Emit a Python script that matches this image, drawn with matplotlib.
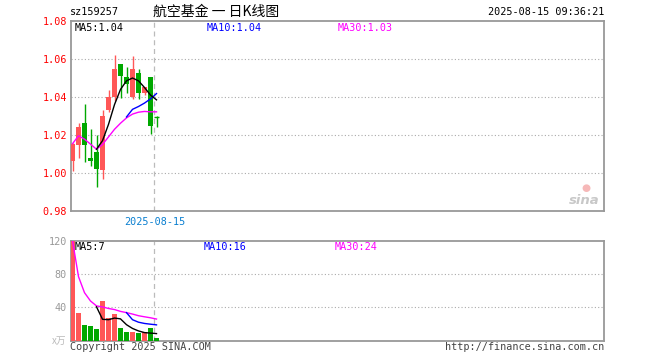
import numpy as np
import matplotlib
matplotlib.use('Agg')
import matplotlib.pyplot as plt

plt.rcParams['font.family'] = ['DejaVu Sans Mono', 'Noto Sans CJK SC']

# daily candles (open, high, low, close)
opens = [1.0061, 1.0145, 1.0263, 1.0080, 1.0111, 1.0017, 1.0333, 1.0400,
         1.0575, 1.0505, 1.0400, 1.0526, 1.0421, 1.0505, 1.0296]
highs = [1.0160, 1.0263, 1.0365, 1.0231, 1.0198, 1.0333, 1.0438, 1.0619,
         1.0575, 1.0560, 1.0614, 1.0550, 1.0453, 1.0505, 1.0301]
lows = [1.0008, 1.0079, 1.0056, 1.0038, 0.9926, 0.9968, 1.0319, 1.0377,
        1.0395, 1.0421, 1.0389, 1.0390, 1.0413, 1.0207, 1.0242]
closes = [1.0154, 1.0242, 1.0145, 1.0061, 1.0022, 1.0302, 1.0400, 1.0548,
          1.0508, 1.0468, 1.0548, 1.0421, 1.0453, 1.0245, 1.0296]
up = [True, True, False, False, False, True, True, True,
      False, False, True, False, True, False, False]

# price moving averages (None = not drawn)
ma5 = [None, None, None, None, 1.0125, 1.0170, 1.0256, 1.0360, 1.0440,
       1.0485, 1.0500, 1.0485, 1.0450, 1.0410, 1.0385]
ma10 = [None] * 9 + [1.0295, 1.0335, 1.0350, 1.0368, 1.0390, 1.0418]
ma30 = [1.0154, 1.0196, 1.0178, 1.0152, 1.0125, 1.0150, 1.0190, 1.0230,
        1.0262, 1.0290, 1.0310, 1.0320, 1.0324, 1.0322, 1.0322]

# volume (x万)
volume = [120, 33.6, 18.8, 17.6, 13.7, 48, 26.9, 32.4, 15.6, 10.8,
          10.4, 8.9, 10.4, 15.6, 2.8]
vma5 = [None, None, None, None, 40.5, 25.5, 25, 27, 26, 19, 14.5,
        11.5, 9.5, 8.9, 8.3]
vma10 = [None] * 9 + [33.5, 25, 22, 20.5, 19.6, 18.8]
vma30 = [120, 76.8, 57.5, 47.5, 41.6, 40.4, 38.5, 37.2, 35, 33.5,
         31.8, 29.8, 28.5, 27.3, 25.8]

price_ticks = [0.98, 1.00, 1.02, 1.04, 1.06, 1.08]
vol_ticks = [40, 80, 120]

RED = '#ff5757'
GREEN = '#00a800'
W, H = 660, 360

fig = plt.figure(figsize=(6.6, 3.6), dpi=100)


def frac(px, py):
    return px / W, 1 - py / H


ax = fig.add_axes([71 / W, 1 - 211 / H, 533 / W, 190 / H])
axv = fig.add_axes([71 / W, 1 - 340.5 / H, 533 / W, 99.8 / H])

x = np.arange(len(opens))
cols = [RED if u else GREEN for u in up]
xlim = (-0.25, -0.25 + 533 / 6)

# candles
ax.vlines(x, lows, highs, colors=cols, linewidth=1, zorder=2)
bottoms = [min(o, c) for o, c in zip(opens, closes)]
heights = [abs(c - o) for o, c in zip(opens, closes)]
ax.bar(x, heights, bottom=bottoms, width=0.83, color=cols, linewidth=0, zorder=3)
for i in range(len(x)):
    if heights[i] == 0:
        ax.hlines(opens[i], x[i] - 0.42, x[i] + 0.42, colors=cols[i], linewidth=1, zorder=3)


def line(a, vals, color):
    xs = [i for i, v in enumerate(vals) if v is not None]
    ys = [v for v in vals if v is not None]
    a.plot(xs, ys, color=color, linewidth=1, zorder=4)


line(ax, ma30, '#ff00ff')
line(ax, ma10, '#0000ff')
line(ax, ma5, 'black')

ax.set_xlim(*xlim)
ax.set_ylim(0.98, 1.08)
ax.set_yticks(price_ticks)
ax.set_yticklabels(['%.2f' % t for t in price_ticks], color='red', fontsize=7.3)
ax.set_xticks([])
ax.tick_params(length=0, pad=3)
for t in price_ticks[1:-1]:
    ax.axhline(t, color='#aaaaaa', linestyle=(0, (1, 2)), linewidth=0.8, zorder=1)
ax.axvline(13.63, color='#bbbbbb', linestyle=(0, (4, 3)), linewidth=0.9, zorder=1)

# volume
axv.bar(x, volume, width=0.83, color=cols, linewidth=0, zorder=3)
line(axv, vma30, '#ff00ff')
line(axv, vma10, '#0000ff')
line(axv, vma5, 'black')
axv.set_xlim(*xlim)
axv.set_ylim(0, 120)
axv.set_yticks(vol_ticks)
axv.set_yticklabels([str(t) for t in vol_ticks], color='#999999', fontsize=7.3)
axv.set_xticks([])
axv.tick_params(length=0, pad=3)
for t in vol_ticks[:-1]:
    axv.axhline(t, color='#aaaaaa', linestyle=(0, (1, 2)), linewidth=0.8, zorder=1)
axv.axvline(13.63, color='#bbbbbb', linestyle=(0, (4, 3)), linewidth=0.9, zorder=1)

for a in (ax, axv):
    for s in a.spines.values():
        s.set_color('#999999')
        s.set_linewidth(1.3)

# texts
fs = 7.3
fig.text(*frac(70, 12), 'sz159257', fontsize=fs, va='center', ha='left')
fig.text(*frac(216, 12), '航空基金 一 日K线图', fontsize=10, va='center', ha='center',
         family=['Noto Sans CJK SC', 'DejaVu Sans'])
fig.text(*frac(604, 12), '2025-08-15 09:36:21', fontsize=fs, va='center', ha='right')

fig.text(*frac(75, 28), 'MA5:1.04', fontsize=fs, va='center', color='black')
fig.text(*frac(207, 28), 'MA10:1.04', fontsize=fs, va='center', color='#0000ff')
fig.text(*frac(338, 28), 'MA30:1.03', fontsize=fs, va='center', color='#ff00ff')

fig.text(*frac(155, 222), '2025-08-15', fontsize=fs, va='center', ha='center', color='#0a7fd0')

fig.text(*frac(75, 247), 'MA5:7', fontsize=fs, va='center', color='black')
fig.text(*frac(204, 247), 'MA10:16', fontsize=fs, va='center', color='#0000ff')
fig.text(*frac(335, 247), 'MA30:24', fontsize=fs, va='center', color='#ff00ff')

fig.text(*frac(66, 341), 'x万', fontsize=7, va='center', ha='right', color='#bbbbbb',
         family=['Noto Sans CJK SC', 'DejaVu Sans'])
fig.text(*frac(70, 347), 'Copyright 2025 SINA.COM', fontsize=fs, va='center', color='#444444')
fig.text(*frac(604, 347), 'http://finance.sina.com.cn', fontsize=fs, va='center', ha='right',
         color='#444444')

# sina watermark
fig.text(*frac(584, 201), 'sina', fontsize=9.5, va='center', ha='center', color='#c8c8c8',
         style='italic', weight='bold', family='DejaVu Sans')
fig.text(*frac(586, 188), '●', fontsize=7.5, va='center', ha='center', color='#f6b8b8',
         family='DejaVu Sans')

fig.savefig('out.png', dpi=100)
